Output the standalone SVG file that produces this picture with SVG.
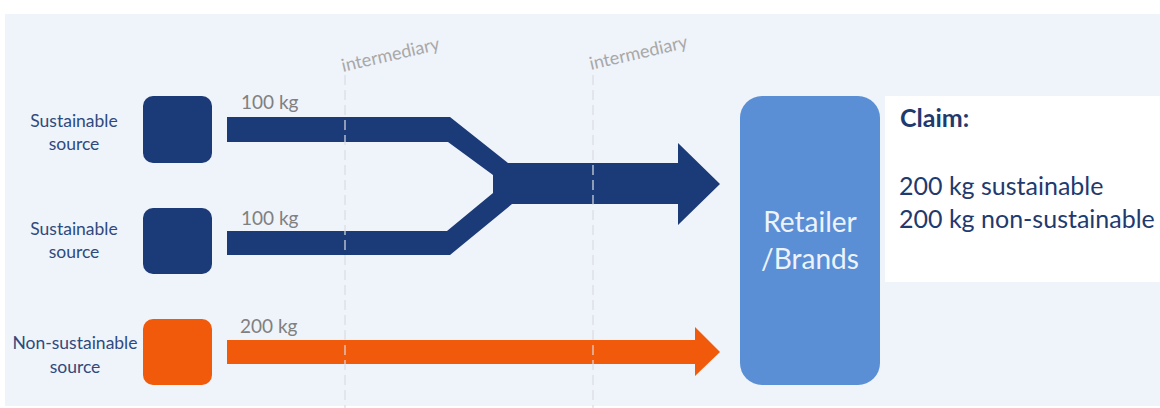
<svg xmlns="http://www.w3.org/2000/svg" width="1160" height="408" viewBox="0 0 1160 408">
<style>
.lbl{font-family:Lato,"Liberation Sans",sans-serif;font-size:17.5px;fill:#2e4a7d;text-anchor:middle}
.kg{font-family:Lato,"Liberation Sans",sans-serif;font-size:19px;fill:#808080}
.int{font-family:Lato,"Liberation Sans",sans-serif;font-size:18px;fill:#a8a8a8}
.claim{font-family:Lato,"Liberation Sans",sans-serif;font-size:25px;fill:#1f3a6e}
.ret{font-family:Lato,"Liberation Sans",sans-serif;font-size:28px;fill:#eef3fb;text-anchor:middle}
.dash{stroke:#d9dce2;stroke-width:1.2;stroke-dasharray:10 5;fill:none}
</style>
<rect x="0" y="0" width="1160" height="408" fill="#ffffff"/>
<rect x="5" y="14" width="1155" height="392" fill="#eff3fa"/>

<g id="connectors">
  <path d="M227,117 L450,117 L508,163 L678,163 L678,143 L720,184 L678,225 L678,204 L512,204 L450,255 L227,255 L227,231 L447,231 L493,193 L493,175 L448,142 L227,142 Z" fill="#1b3a78"/>
  <path d="M227,340 L695,340 L695,327 L720,352 L695,376 L695,364 L227,364 Z" fill="#f15a0b"/>
  <text class="kg" x="241" y="109">100 kg</text>
  <text class="kg" x="241" y="225">100 kg</text>
  <text class="kg" x="240" y="333">200 kg</text>
</g>

<g id="intermediary1">
  <line class="dash" x1="345" y1="75" x2="345" y2="408"/>
  <text class="int" transform="translate(343,72) rotate(-13)">intermediary</text>
</g>
<g id="intermediary2">
  <line class="dash" x1="593" y1="75" x2="593" y2="408"/>
  <text class="int" transform="translate(591,70) rotate(-13)">intermediary</text>
</g>

<g id="source1">
  <rect x="143" y="96" width="69" height="67" rx="10" fill="#1b3a78"/>
  <text class="lbl" x="74" y="127">Sustainable</text>
  <text class="lbl" x="74" y="150">source</text>
</g>
<g id="source2">
  <rect x="143" y="208" width="69" height="66" rx="10" fill="#1b3a78"/>
  <text class="lbl" x="74" y="235">Sustainable</text>
  <text class="lbl" x="74" y="258">source</text>
</g>
<g id="source3">
  <rect x="143" y="319" width="69" height="66" rx="10" fill="#f15a0b"/>
  <text class="lbl" x="75" y="349">Non-sustainable</text>
  <text class="lbl" x="75" y="373">source</text>
</g>

<g id="retailer">
  <rect x="740" y="96" width="140" height="289" rx="22" fill="#5a8fd6"/>
  <text class="ret" x="810" y="232">Retailer</text>
  <text class="ret" x="810" y="269">/Brands</text>
</g>

<g id="claim">
  <rect x="885" y="96" width="275" height="186" fill="#ffffff"/>
  <text class="claim" x="900" y="127" font-weight="bold" font-size="22">Claim:</text>
  <text class="claim" x="899" y="195">200 kg sustainable</text>
  <text class="claim" x="899" y="228">200 kg non-sustainable</text>
</g>
</svg>
